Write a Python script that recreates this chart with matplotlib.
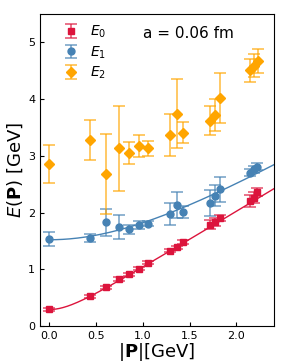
import numpy as np
import matplotlib
matplotlib.use("Agg")
import matplotlib.pyplot as plt

# ---- data ----
p0 = [0.0, 0.43, 0.607, 0.743, 0.85, 0.964, 1.057, 1.286, 1.361, 1.425, 1.714, 1.768, 1.822, 2.143, 2.186, 2.225]
e0 = [0.294, 0.524, 0.682, 0.829, 0.912, 1.011, 1.117, 1.329, 1.388, 1.482, 1.782, 1.83, 1.9, 2.206, 2.264, 2.365]
e0_err = [0.03, 0.03, 0.03, 0.03, 0.03, 0.03, 0.03, 0.03, 0.03, 0.04, 0.08, 0.07, 0.05, 0.1, 0.09, 0.07]

p1 = [0.0, 0.43, 0.607, 0.743, 0.85, 0.961, 1.057, 1.286, 1.361, 1.425, 1.714, 1.776, 1.822, 2.143, 2.186, 2.225]
e1 = [1.53, 1.547, 1.83, 1.752, 1.706, 1.782, 1.806, 1.976, 2.14, 2.006, 2.17, 2.3, 2.41, 2.705, 2.765, 2.81]
e1_err = [0.12, 0.075, 0.24, 0.21, 0.08, 0.075, 0.05, 0.19, 0.23, 0.11, 0.23, 0.19, 0.22, 0.07, 0.06, 0.06]

p2 = [0.0, 0.43, 0.607, 0.743, 0.85, 0.961, 1.057, 1.286, 1.361, 1.425, 1.714, 1.776, 1.822, 2.15, 2.186, 2.232]
e2 = [2.853, 3.277, 2.677, 3.135, 3.053, 3.17, 3.135, 3.365, 3.74, 3.41, 3.62, 3.72, 4.02, 4.505, 4.59, 4.676]
e2_err = [0.33, 0.35, 0.71, 0.75, 0.19, 0.2, 0.13, 0.37, 0.61, 0.19, 0.25, 0.28, 0.44, 0.21, 0.2, 0.21]

# fitted masses for dispersion curves
m0_fit = 0.29
m1_fit = 1.52

labels = [r"$E_0$", r"$E_1$", r"$E_2$"]
colors = ["#DC143C", "#4682B4", "#FFA500"]

fig = plt.figure(figsize=(2.91, 3.63), dpi=100)
ax = fig.add_axes([0.1375, 0.102, 0.803, 0.8595])

pc = np.linspace(0, 2.4, 200)
ax.plot(pc, np.sqrt(m0_fit**2 + pc**2), color=colors[0], lw=1.0, zorder=1)
ax.plot(pc, np.sqrt(m1_fit**2 + pc**2), color=colors[1], lw=1.0, zorder=1)

for p, e, err, lab, c, mk, ms in [(p0, e0, e0_err, labels[0], colors[0], 's', 5),
                                   (p1, e1, e1_err, labels[1], colors[1], 'o', 5),
                                   (p2, e2, e2_err, labels[2], colors[2], 'D', 5.5)]:
    eb = ax.errorbar(p, e, yerr=err, fmt=mk, color=c, ms=ms, capsize=4,
                     elinewidth=1.2, capthick=1.2, label=lab, zorder=3)
    for l in eb[1]:
        l.set_alpha(0.7)
    for l in eb[2]:
        l.set_alpha(0.7)

ax.set_xlim(-0.1, 2.4)
ax.set_ylim(0, 5.5)
ax.set_xticks([0.0, 0.5, 1.0, 1.5, 2.0])
ax.set_yticks([0, 1, 2, 3, 4, 5])
ax.tick_params(direction='in', labelsize=8, length=3)
ax.set_xlabel(r"$|\mathbf{P}|$[GeV]", fontsize=13, labelpad=0)
ax.set_ylabel(r"$E(\mathbf{P})$ [GeV]", fontsize=13, labelpad=2)
ax.text(0.44, 0.937, "a = 0.06 fm", transform=ax.transAxes, fontsize=11, ha='left', va='center')
ax.legend(loc='upper left', bbox_to_anchor=(0.0, 1.022), frameon=False, fontsize=10,
          handletextpad=0.4, borderaxespad=0.4, borderpad=0.8, labelspacing=0.3)

fig.savefig("out.png", dpi=100)
